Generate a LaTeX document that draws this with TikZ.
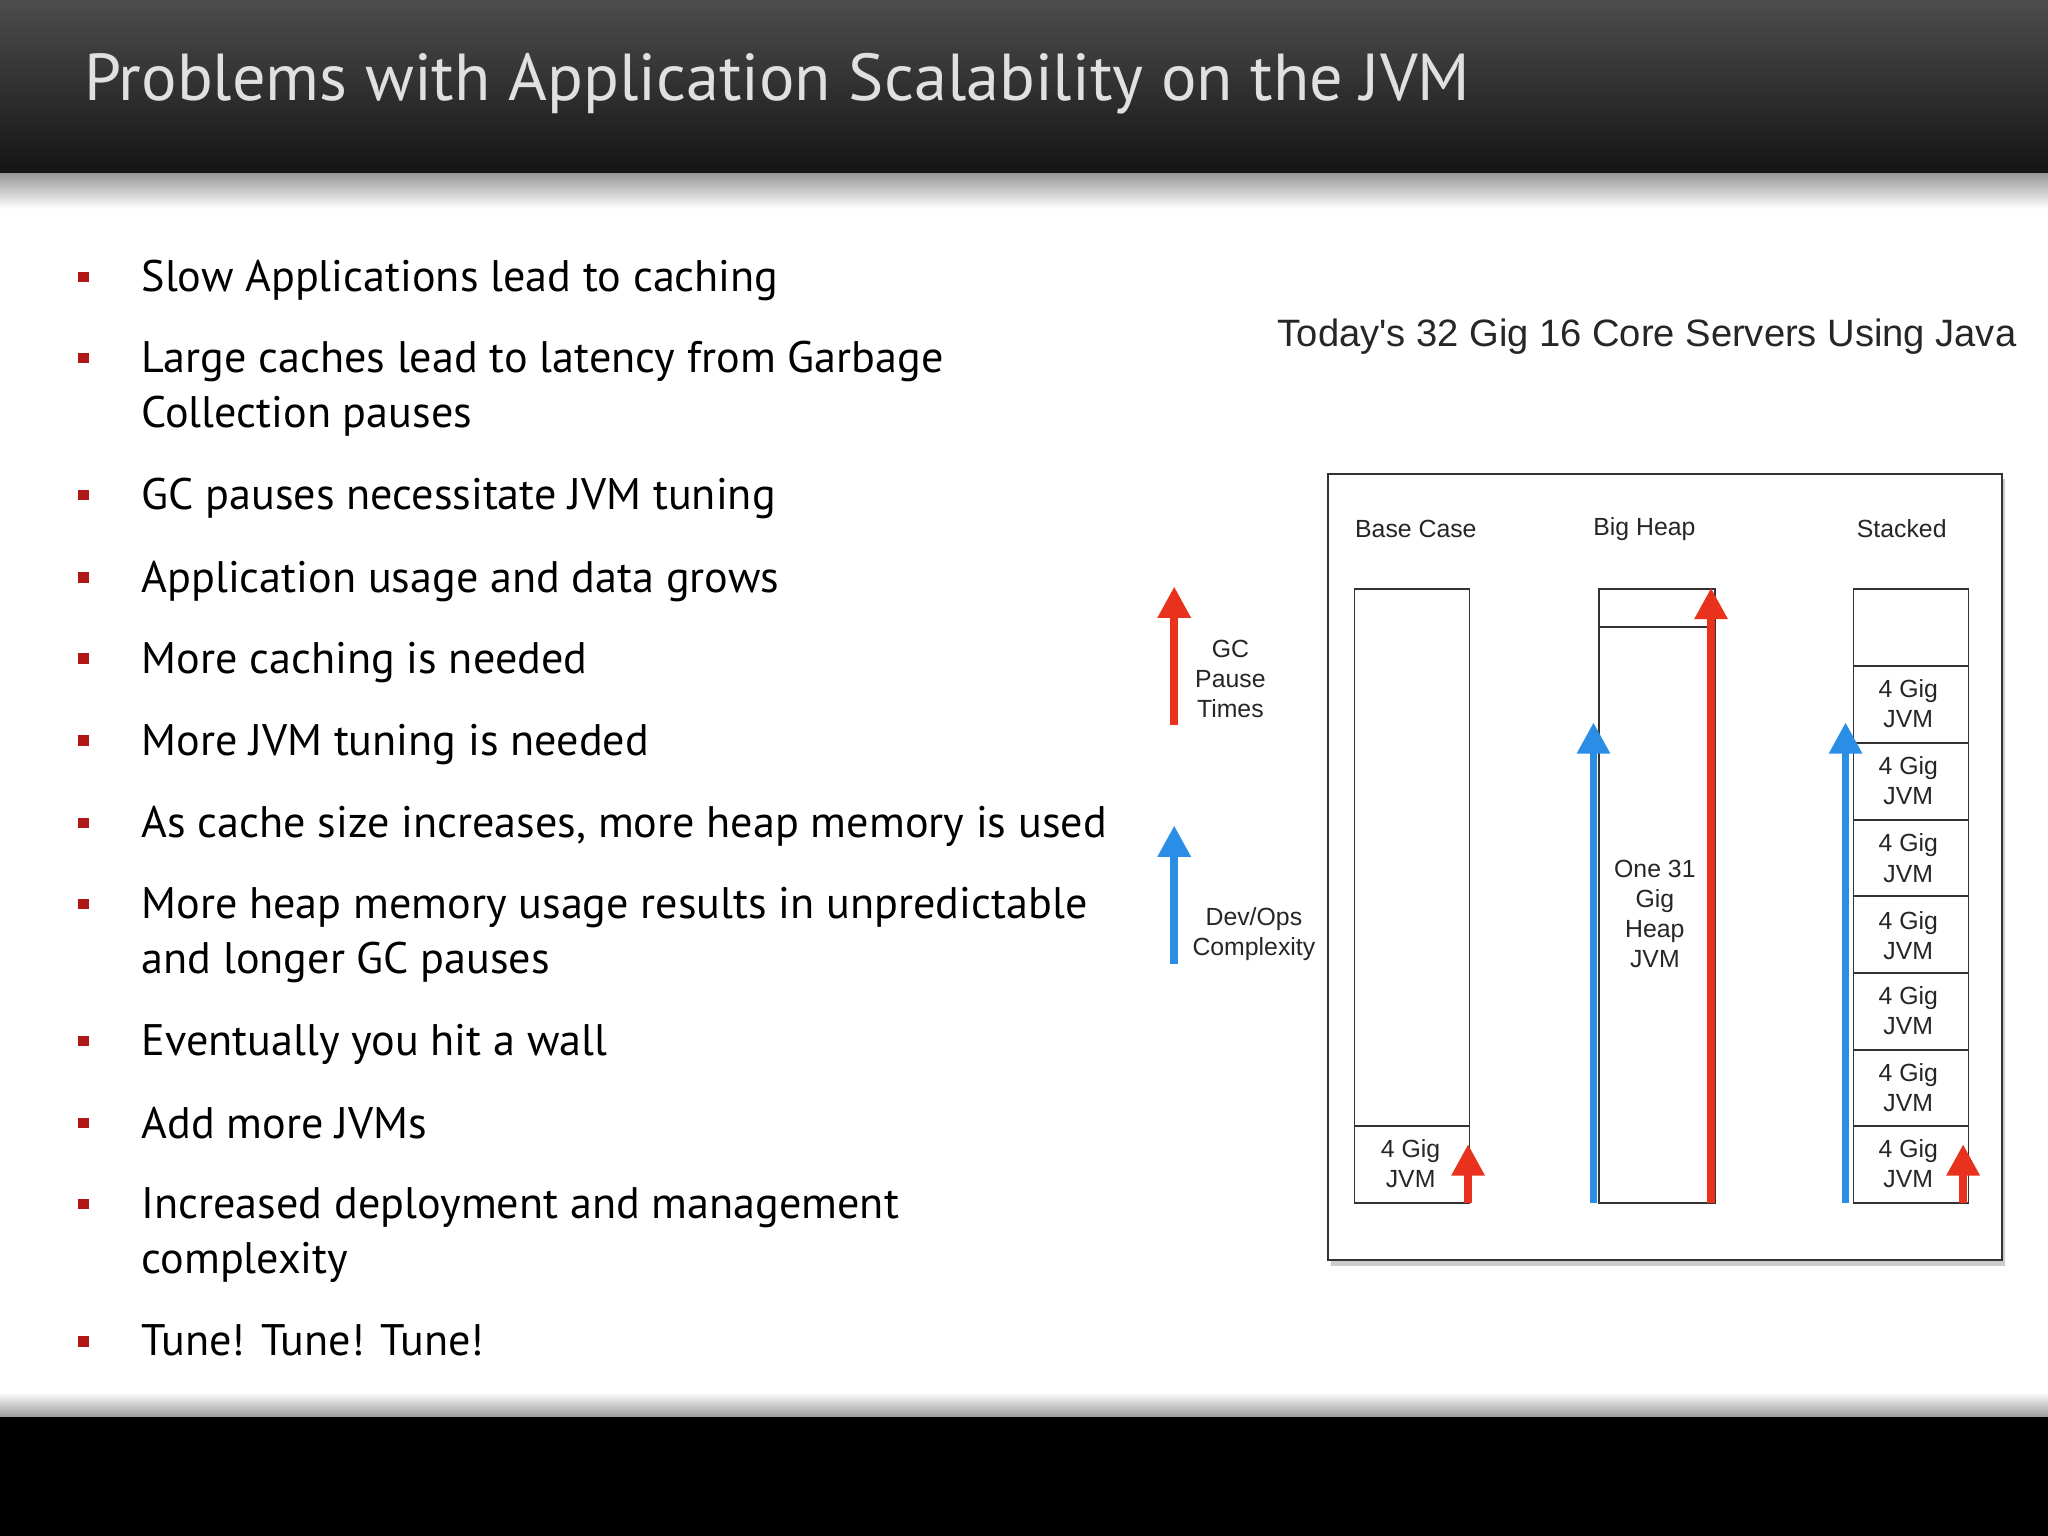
\documentclass[tikz,border=0pt]{standalone}
\usepackage{fontspec}
\setmainfont{PT Sans}
\newfontfamily\arial{Liberation Sans}
\usetikzlibrary{arrows.meta,shadows}
\definecolor{bred}{HTML}{B01818}
\definecolor{ared}{HTML}{E8321E}
\definecolor{ablue}{HTML}{2A8EE6}
\tikzset{
  bul/.style={anchor=west,font=\fontsize{16.9}{21}\selectfont,text=black,align=left,inner sep=0},
  sq/.style={fill=bred,minimum size=4pt,inner sep=0},
  lab/.style={font=\arial\fontsize{9.5}{11.5}\selectfont,text=black!85,align=center,inner sep=0},
  col/.style={draw=black!80,line width=0.6pt},
  arr/.style={line width=3pt,-{Triangle[width=12pt,length=12pt]}},
}
\begin{document}
\begin{tikzpicture}[x=0.5pt,y=-0.5pt]
\useasboundingbox (0,0) rectangle (1568,1176);
\fill[white] (0,0) rectangle (1568,1176);
\shade[top color=black!70,bottom color=black!92] (0,0) rectangle (1568,133);
\shade[top color=black!40,bottom color=white] (0,133) rectangle (1568,160);
\node[anchor=west,text=black!12,font=\fontsize{25.4}{30}\selectfont,inner sep=0] (title) at (64,64) {Problems with Application Scalability on the JVM};
\shade[top color=white,bottom color=black!40] (0,1066) rectangle (1568,1085);
\fill[black] (0,1085) rectangle (1568,1176);
% bullets
\foreach \y/\t [count=\i] in {212/{Slow Applications lead to caching},
 274/{Large caches lead to latency from Garbage\\Collection pauses},
 379/{GC pauses necessitate JVM tuning},
 442/{Application usage and data grows},
 504/{More caching is needed},
 567/{More JVM tuning is needed},
 630/{As cache size increases, more heap memory is used},
 692/{More heap memory usage results in unpredictable\\and longer GC pauses},
 797/{Eventually you hit a wall},
 860/{Add more JVMs},
 922/{Increased deployment and management\\complexity},
 1027/{Tune! Tune! Tune!}}{
  \node[sq] (s\i) at (64,\y) {};
  \node[bul,anchor=north west] (b\i) at (108,\y-13) {\t};
}
% diagram
\node[font=\arial\fontsize{14.6}{17}\selectfont,text=black!85] (dtitle) at (1261,258) {Today's 32 Gig 16 Core Servers Using Java};
\node[draw=black!80,fill=white,line width=0.8pt,minimum width=258pt,minimum height=301pt,drop shadow={shadow xshift=1pt,shadow yshift=-2pt,opacity=0.4},inner sep=0] (frame) at (1275,664) {};
\node[lab] (l1) at (1084,405) {Base Case};
\node[lab] (l2) at (1259,405) {Big Heap};
\node[lab] (l3) at (1456,405) {Stacked};
% base case
\draw[col] (1037,451) rectangle (1125,921);
\draw[col] (1037,862) -- (1125,862);
\node[lab] (bc) at (1080,891) {4 Gig\\JVM};
% big heap
\draw[col] (1224,451) rectangle (1313,921);
\draw[col] (1224,480) -- (1313,480);
\node[lab] (bh) at (1267,700) {One 31\\Gig\\Heap\\JVM};
% stacked
\draw[col] (1419,451) rectangle (1507,921);
\foreach \y in {510,569,628,686,745,804,862} \draw[col] (1419,\y) -- (1507,\y);
\foreach \y in {539,598,657,716,774,833,891} \node[lab] at (1461,\y) {4 Gig\\JVM};
% arrows
\coordinate (a1s) at (1124,921); \coordinate (a1e) at (1124,876);
\coordinate (a2s) at (1220,921); \coordinate (a2e) at (1220,553);
\coordinate (a3s) at (1310,921); \coordinate (a3e) at (1310,450);
\coordinate (a4s) at (1413,921); \coordinate (a4e) at (1413,553);
\coordinate (a5s) at (1503,921); \coordinate (a5e) at (1503,876);
\coordinate (g1s) at (899,555); \coordinate (g1e) at (899,449);
\coordinate (g2s) at (899,738); \coordinate (g2e) at (899,632);
\draw[arr,ared] (a1s) -- (a1e);
\draw[arr,ablue] (a2s) -- (a2e);
\draw[arr,ared] (a3s) -- (a3e);
\draw[arr,ablue] (a4s) -- (a4e);
\draw[arr,ared] (a5s) -- (a5e);
\draw[arr,ared] (g1s) -- (g1e);
\draw[arr,ablue] (g2s) -- (g2e);
\node[lab] (gc) at (942,520) {GC\\Pause\\Times};
\node[lab] (dv) at (960,715) {Dev/Ops\\Complexity};
\end{tikzpicture}
\end{document}
